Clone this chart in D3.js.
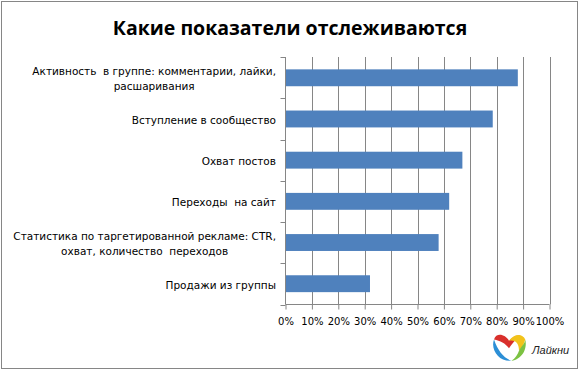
<!DOCTYPE html>
<html>
<head>
<meta charset="utf-8">
<script src="https://cdn.jsdelivr.net/npm/d3@7"></script>
<style>
  body { margin: 0; background: #fff; }
  svg { display: block; }
</style>
</head>
<body>
<div id="chart"></div>
<script>
// data
const categories = [
  ["Активность  в группе: комментарии, лайки,", "расшаривания"],
  ["Вступление в сообщество"],
  ["Охват постов"],
  ["Переходы  на сайт"],
  ["Статистика по таргетированной рекламе: CTR,", "охват, количество  переходов"],
  ["Продажи из группы"]
];
const values = [0.88, 0.785, 0.67, 0.62, 0.58, 0.32];
const xTicks = [0, 0.1, 0.2, 0.3, 0.4, 0.5, 0.6, 0.7, 0.8, 0.9, 1.0];
const title = "Какие показатели отслеживаются";

const W = 582, H = 372;
const plotLeft = 285.5, plotRight = 549.5, plotTop = 57, plotBottom = 304.5;

const svg = d3.select("#chart").append("svg")
  .attr("width", W).attr("height", H);

// outer frame
svg.append("rect")
  .attr("x", 1.5).attr("y", 1.5)
  .attr("width", 576).attr("height", 367)
  .attr("fill", "#fff").attr("stroke", "#868686").attr("stroke-width", 1);

svg.append("text")
  .attr("x", 290).attr("y", 35)
  .attr("text-anchor", "middle")
  .style("font-family", "'Open Sans', sans-serif")
  .style("font-weight", "700")
  .style("font-size", "19.5px")
  .attr("fill", "#000")
  .text(title);

const x = d3.scaleLinear().domain([0, 1]).range([plotLeft, plotRight]);
const idx = categories.map((d, i) => i);
const y = d3.scaleBand().domain(idx).range([plotTop, plotBottom])
  .paddingInner(0.59).paddingOuter(0.3);
const yEdge = d3.scaleLinear().domain([0, categories.length]).range([plotTop, plotBottom]);

// vertical gridlines
svg.append("g").selectAll("line")
  .data(xTicks.slice(1))
  .enter().append("line")
  .attr("x1", d => Math.round(x(d)) + 0.5).attr("x2", d => Math.round(x(d)) + 0.5)
  .attr("y1", plotTop).attr("y2", plotBottom)
  .attr("stroke", "#868686").attr("stroke-width", 1);

// bars
svg.append("g").selectAll("rect")
  .data(values)
  .enter().append("rect")
  .attr("x", x(0))
  .attr("y", (d, i) => y(i))
  .attr("width", d => x(d) - x(0))
  .attr("height", y.bandwidth())
  .attr("fill", "#4F81BD");

// x axis
const xAxis = d3.axisBottom(x)
  .tickValues(xTicks)
  .tickFormat(d3.format(".0%"))
  .tickSize(5)
  .tickPadding(8);
const gx = svg.append("g")
  .attr("transform", "translate(0," + plotBottom + ")")
  .call(xAxis);
gx.select(".domain").attr("stroke", "#868686").attr("d", "M" + plotLeft + ",0H" + plotRight);
gx.selectAll(".tick line").attr("stroke", "#868686");
gx.selectAll(".tick text")
  .attr("fill", "#000")
  .style("font-family", "'DejaVu Sans', sans-serif")
  .style("font-size", "10px");

// y axis line and category ticks
const gy = svg.append("g");
gy.append("line")
  .attr("x1", plotLeft).attr("x2", plotLeft)
  .attr("y1", plotTop).attr("y2", plotBottom)
  .attr("stroke", "#868686");
gy.selectAll("line.t")
  .data(d3.range(categories.length + 1))
  .enter().append("line")
  .attr("class", "t")
  .attr("x1", plotLeft - 5).attr("x2", plotLeft)
  .attr("y1", d => Math.round(yEdge(d)) + 0.5)
  .attr("y2", d => Math.round(yEdge(d)) + 0.5)
  .attr("stroke", "#868686");

// category labels: block right aligned, lines centered in the block
const labelRight = 276;
const lg = svg.append("g")
  .style("font-family", "'DejaVu Sans', sans-serif")
  .style("font-size", "10.5px")
  .attr("fill", "#000");
categories.forEach((lines, i) => {
  const cy = yEdge(i + 0.5) + 1;
  const texts = lines.map((s, j) => lg.append("text")
    .attr("y", cy + (j - (lines.length - 1) / 2) * 15)
    .attr("dy", "0.35em")
    .attr("text-anchor", "middle")
    .attr("xml:space", "preserve")
    .style("white-space", "pre")
    .text(s));
  const maxW = d3.max(texts, t => t.node().getComputedTextLength());
  texts.forEach(t => t.attr("x", labelRight - maxW / 2));
});

// logo
const logo = svg.append("g").attr("transform", "translate(509,347) scale(1.25)");
logo.append("path").attr("d", "M-12,-6 C-10,-12 -3,-10 0,-5 C3,-8 6,-10 9,-9 C5,-6 2,-2 0,1 C-3,-3 -7,-5 -12,-6Z").attr("fill", "#d9302c");
logo.append("path").attr("d", "M0,-5 C4,-11 11,-11 13,-6 C12,-2 10,1 8,3 C8,-2 6,-6 0,-5Z").attr("fill", "#f2c31b");
logo.append("path").attr("d", "M8,3 C10,-1 13,-3 13,-6 C15,2 10,10 2,11 C5,9 7,6 8,3Z").attr("fill", "#7cc242");
logo.append("path").attr("d", "M-12,-6 C-15,2 -8,12 2,11 C-4,9 -9,3 -12,-6Z").attr("fill", "#2c8fd6");
svg.append("text")
  .attr("x", 532).attr("y", 354)
  .style("font-family", "'Liberation Sans', sans-serif")
  .style("font-style", "italic")
  .style("font-size", "11px")
  .attr("fill", "#222")
  .text("Лайкни");
</script>
</body>
</html>
